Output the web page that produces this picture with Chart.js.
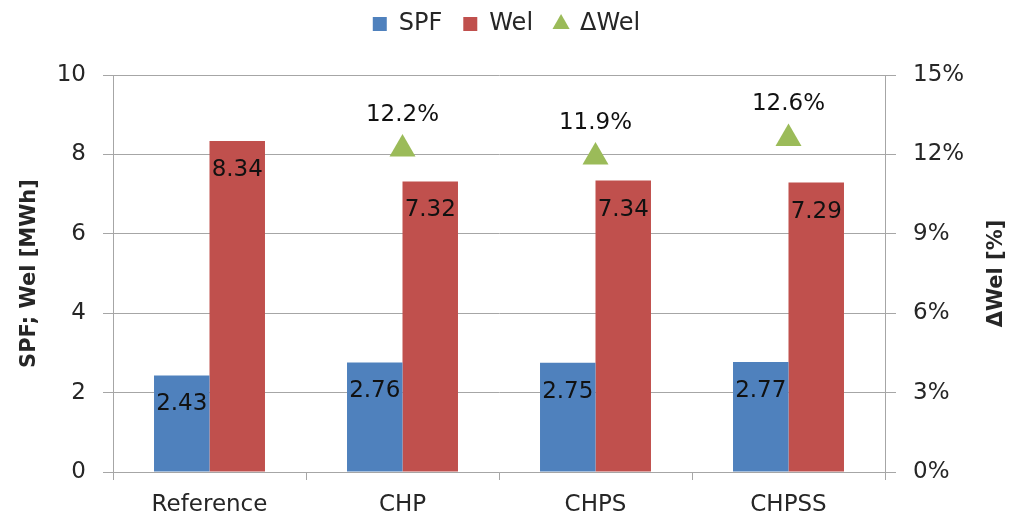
<!DOCTYPE html>
<html>
<head>
<meta charset="utf-8">
<script src="https://cdn.jsdelivr.net/npm/chart.js@4.4.0/dist/chart.umd.min.js"></script>
<style>
  html, body { margin: 0; padding: 0; background: #fff; }
  #wrap { width: 1013px; height: 520px; }
</style>
</head>
<body>
<div id="wrap"><canvas id="grafico" width="1013" height="520"></canvas></div>
<script>
    // datos
    const categorias = ['Reference', 'CHP', 'CHPS', 'CHPSS'];
    const spf = [2.43, 2.76, 2.75, 2.77];
    const wel = [8.34, 7.32, 7.34, 7.29];
    const deltaWel = [null, 12.2, 11.9, 12.6];

    const fuente = 'DejaVu Sans, Verdana, sans-serif';
    const gris = '#a6a6a6';
    const texto = '#262626';

    // espacio extra debajo de la leyenda
    const espacioLeyenda = {
        id: 'espacioLeyenda',
        beforeInit(chart) {
            const fitOriginal = chart.legend.fit;
            chart.legend.fit = function () {
                fitOriginal.bind(chart.legend)();
                this.height += 29;
            };
        }
    };

    // etiquetas de valores sobre las barras y triangulos
    const etiquetas = {
        id: 'etiquetas',
        afterDatasetsDraw(chart) {
            const ctx = chart.ctx;
            ctx.save();
            ctx.font = '23px ' + fuente;
            ctx.fillStyle = '#111';
            ctx.textAlign = 'center';
            ctx.textBaseline = 'middle';
            chart.data.datasets.forEach((ds, i) => {
                const meta = chart.getDatasetMeta(i);
                meta.data.forEach((el, j) => {
                    const v = ds.data[j];
                    if (v === null) return;
                    if (ds.type === 'line') {
                        ctx.fillText(v.toFixed(1) + '%', el.x, el.y - 34);
                    } else {
                        ctx.fillText(v.toFixed(2), el.x, el.y + 29);
                    }
                });
            });
            ctx.restore();
        }
    };

    // titulo del eje derecho (leido de abajo hacia arriba)
    const tituloDerecho = {
        id: 'tituloDerecho',
        afterDraw(chart) {
            const ctx = chart.ctx;
            const area = chart.chartArea;
            ctx.save();
            ctx.translate(997, (area.top + area.bottom) / 2);
            ctx.rotate(-Math.PI / 2);
            ctx.font = 'bold 21px ' + fuente;
            ctx.fillStyle = texto;
            ctx.textAlign = 'center';
            ctx.textBaseline = 'middle';
            ctx.fillText('ΔWel [%]', 0, 0);
            ctx.restore();
        }
    };

    new Chart(document.getElementById('grafico'), {
        type: 'bar',
        data: {
            labels: categorias,
            datasets: [{
                label: 'SPF',
                data: spf,
                backgroundColor: '#4F81BD',
                yAxisID: 'y',
                order: 2
            }, {
                label: 'Wel',
                data: wel,
                backgroundColor: '#C0504D',
                yAxisID: 'y',
                order: 2
            }, {
                type: 'line',
                label: 'ΔWel',
                data: deltaWel,
                showLine: false,
                pointStyle: 'triangle',
                pointRadius: 15,
                pointHoverRadius: 15,
                backgroundColor: '#9BBB59',
                borderColor: '#9BBB59',
                borderWidth: 0,
                yAxisID: 'y1',
                order: 1
            }]
        },
        options: {
            responsive: false,
            animation: false,
            layout: { padding: { top: -9, bottom: 0, left: 0, right: 0 } },
            datasets: {
                bar: { categoryPercentage: 0.575, barPercentage: 1.0 }
            },
            plugins: {
                legend: {
                    position: 'top',
                    padding: 0,
                    labels: {
                        usePointStyle: true,
                        boxWidth: 14,
                        boxHeight: 14,
                        padding: 21,
                        color: texto,
                        font: { family: fuente, size: 24 },
                        generateLabels(chart) {
                            return chart.data.datasets.map((ds, i) => ({
                                text: ds.label,
                                fillStyle: ds.backgroundColor,
                                strokeStyle: ds.backgroundColor,
                                lineWidth: 0,
                                pointStyle: ds.type === 'line' ? 'triangle' : 'rect',
                                datasetIndex: i,
                                fontColor: texto
                            }));
                        }
                    }
                },
                tooltip: { enabled: false }
            },
            scales: {
                x: {
                    afterFit(scale) { scale.height = 48; },
                    grid: {
                        offset: true,
                        drawOnChartArea: false,
                        color: gris,
                        tickLength: 8
                    },
                    border: { color: gris },
                    ticks: {
                        color: texto,
                        padding: 11,
                        font: { family: fuente, size: 23 }
                    }
                },
                y: {
                    position: 'left',
                    min: 0,
                    max: 10,
                    afterFit(scale) { scale.width = 113; },
                    ticks: {
                        stepSize: 2,
                        color: texto,
                        padding: 17,
                        font: { family: fuente, size: 23 }
                    },
                    grid: { color: gris, tickLength: 10 },
                    border: { color: gris },
                    title: {
                        display: true,
                        text: 'SPF; Wel [MWh]',
                        color: texto,
                        padding: { top: 17, bottom: 0 },
                        font: { family: fuente, size: 21, weight: 'bold' }
                    }
                },
                y1: {
                    position: 'right',
                    min: 0,
                    max: 15,
                    afterFit(scale) { scale.width = 128; },
                    ticks: {
                        stepSize: 3,
                        color: texto,
                        padding: 17,
                        font: { family: fuente, size: 23 },
                        callback: v => v + '%'
                    },
                    grid: { drawOnChartArea: false, color: gris, tickLength: 11 },
                    border: { color: gris }
                }
            }
        },
        plugins: [espacioLeyenda, etiquetas, tituloDerecho]
    });
</script>
</body>
</html>
